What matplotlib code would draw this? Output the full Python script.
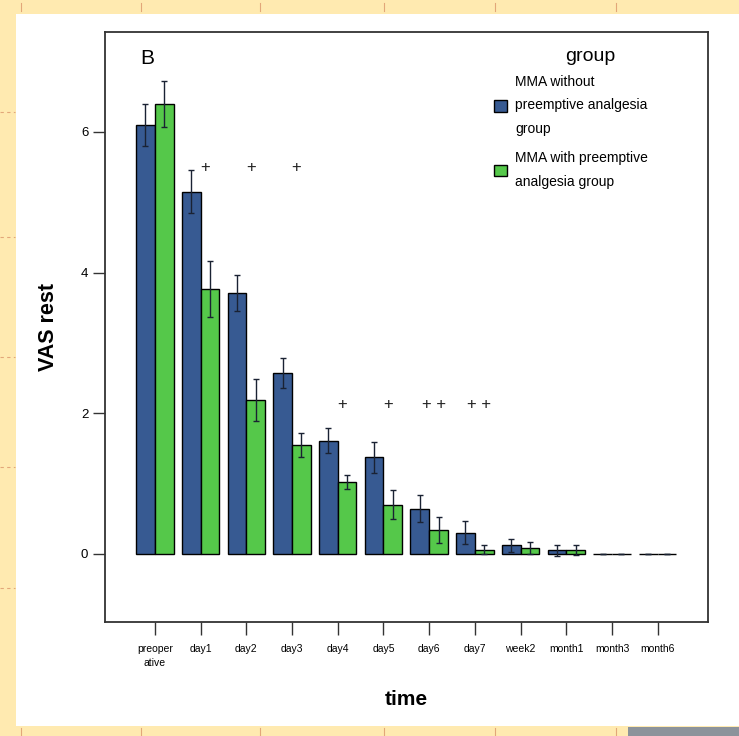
import matplotlib.pyplot as plt
import numpy as np
from matplotlib.patches import Rectangle
from matplotlib.lines import Line2D

# data
times = ["preoper\native", "day1", "day2", "day3", "day4", "day5", "day6",
         "day7", "week2", "month1", "month3", "month6"]
without_mean = [6.10, 5.15, 3.71, 2.57, 1.61, 1.37, 0.64, 0.30, 0.12, 0.05, 0.0, 0.0]
without_err = [0.30, 0.31, 0.26, 0.21, 0.18, 0.22, 0.19, 0.16, 0.09, 0.08, 0.0, 0.0]
with_mean = [6.40, 3.77, 2.19, 1.55, 1.02, 0.70, 0.34, 0.06, 0.08, 0.05, 0.0, 0.0]
with_err = [0.33, 0.40, 0.30, 0.17, 0.10, 0.20, 0.18, 0.06, 0.09, 0.07, 0.0, 0.0]
sig_marks = ["", "+", "+", "+", "+", "+", "+ +", "+ +", "", "", "", ""]
sig_y = [0, 5.5, 5.5, 5.5, 2.12, 2.12, 2.12, 2.12, 0, 0, 0, 0]

BLUE = "#375a92"
GREEN = "#55c84a"
FONT = ["Liberation Sans", "DejaVu Sans"]

plt.rcParams["font.family"] = FONT

fig = plt.figure(figsize=(7.39, 7.36), dpi=100)
fig.patch.set_facecolor("#ffeab0")

W, H = 739, 736


def px(x, y):
    return x / W, 1 - y / H


# white slide panel + slide decorations
x0, y0 = px(16, 726)
x1, y1 = px(739, 14)
fig.patches.append(Rectangle((x0, y0), x1 - x0, y1 - y0, transform=fig.transFigure,
                             facecolor="white", edgecolor="none", zorder=-5))
gx, gy = px(628, 736)
gx1, gy1 = px(739, 727)
fig.patches.append(Rectangle((gx, gy), gx1 - gx, gy1 - gy, transform=fig.transFigure,
                             facecolor="#8c939b", edgecolor="none", zorder=-5))
for xp in [21, 141, 260, 384, 495, 616]:
    a, b = px(xp, 3)
    _, c = px(xp, 11)
    fig.lines.append(Line2D([a, a], [b, c], transform=fig.transFigure, color="#e2a779",
                            lw=0.8, zorder=-4))
    a, b = px(xp, 728)
    _, c = px(xp, 736)
    fig.lines.append(Line2D([a, a], [b, c], transform=fig.transFigure, color="#e2a779",
                            lw=0.8, zorder=-4))
for yp in [112, 237, 357, 467, 588]:
    a, b = px(0, yp)
    c, _ = px(15, yp)
    fig.lines.append(Line2D([a, c], [b, b], transform=fig.transFigure, color="#e2a779",
                            lw=0.8, ls=(0, (3, 3)), zorder=-4))

ax = fig.add_axes([105 / W, 1 - 622 / H, 603 / W, 590 / H])
ax.set_zorder(2)
ax.set_facecolor("white")

x = np.arange(len(times))
bw = 0.41
ekw = dict(ecolor="#1a2233", elinewidth=1.0, capsize=2, capthick=1.0)
ax.bar(x - bw / 2, without_mean, bw, yerr=without_err, color=BLUE, edgecolor="black",
       linewidth=1.0, error_kw=ekw, label="MMA without\npreemptive analgesia\ngroup", zorder=2)
ax.bar(x + bw / 2, with_mean, bw, yerr=with_err, color=GREEN, edgecolor="black",
       linewidth=1.0, error_kw=ekw, label="MMA with preemptive\nanalgesia group", zorder=2)

for xi, m, yv in zip(x, sig_marks, sig_y):
    if m:
        ax.text(xi + 0.1, yv, m, ha="center", va="center", fontsize=12, color="#222222")

ax.set_xlim(-1.09, 12.1)
ax.set_ylim(-0.97, 7.42)
ax.set_xticks(x)
ax.set_xticklabels(times, fontsize=7.5, linespacing=1.5)
ax.set_yticks([0, 2, 4, 6])
ax.set_yticklabels(["0", "2", "4", "6"], fontsize=9.5)
ax.tick_params(axis="both", length=9, width=1.0, color="#333333")
ax.tick_params(axis="x", pad=7)
ax.tick_params(axis="y", pad=3)
for s in ax.spines.values():
    s.set_linewidth(1.3)
    s.set_color("#333333")

ax.set_ylabel("VAS rest", fontsize=15.5, fontweight="bold", labelpad=16)
ax.set_xlabel("time", fontsize=15, fontweight="bold", labelpad=16)

ax.text(0.07, 0.955, "B", transform=ax.transAxes, fontsize=15, ha="center", va="center")

# legend title as separate text so the entry spacing can be set freely
ax.text((590 - 105) / 603, (622 - 56) / 590, "group", transform=ax.transAxes,
        fontsize=14, ha="center", va="center")
leg = ax.legend(loc="upper left", bbox_to_anchor=(0.625, 0.949), frameon=False,
                fontsize=10, handlelength=0.9, handleheight=0.9, handletextpad=0.6,
                labelspacing=1.05)
for t in leg.get_texts():
    t.set_linespacing(1.9)

fig.savefig("out.png", dpi=100, facecolor=fig.get_facecolor())
